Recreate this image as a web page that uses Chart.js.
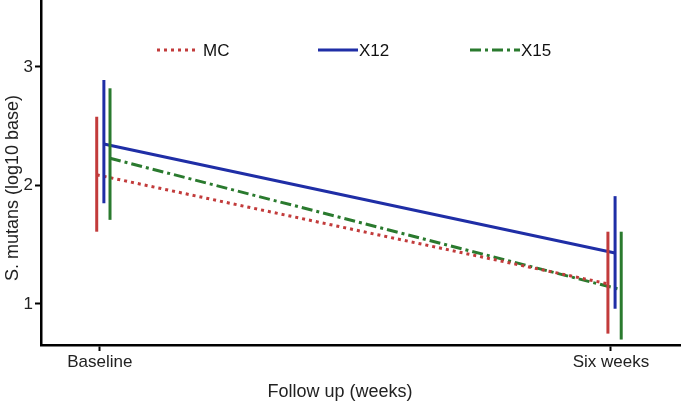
<!DOCTYPE html>
<html>
<head>
<meta charset="utf-8">
<script src="https://cdn.jsdelivr.net/npm/chart.js@4/dist/chart.umd.min.js"></script>
<style>
  html, body { margin: 0; padding: 0; background: #fff; }
  #wrap { width: 685px; height: 415px; }
</style>
</head>
<body>
<div id="wrap"><canvas id="chart" width="685" height="415"></canvas></div>
<script>
// time points
const timeLabels = ["Baseline", "Six weeks"];
const seriesNames = ["MC", "X12", "X15"];
const xTitle = "Follow up (weeks)";
const yTitle = "S. mutans (log10 base)";

// means and error bar ends
const mcMean = [2.09, 1.17];
const mcLow = [1.61, 0.75];
const mcHigh = [2.58, 1.61];

const x12Mean = [2.35, 1.43];
const x12Low = [1.85, 0.96];
const x12High = [2.89, 1.91];

const x15Mean = [2.23, 1.12];
const x15Low = [1.71, 0.70];
const x15High = [2.82, 1.61];

const colors = ["#c23b3b", "#1f2ea6", "#2a7a2e"];
const dashes = [[3, 4], [], [11, 4, 3, 4]];
const dodge = [-0.006, 0.008, 0.02];
const FONT = "'Liberation Sans', Arial, sans-serif";

const means = [mcMean, x12Mean, x15Mean];
const lows = [mcLow, x12Low, x15Low];
const highs = [mcHigh, x12High, x15High];

const datasets = [];
// error bars first so mean lines sit on top
for (let s = 0; s < 3; s++) {
  for (let t = 0; t < timeLabels.length; t++) {
    datasets.push({
      label: seriesNames[s] + " err " + t,
      data: [{ x: t + dodge[s], y: lows[s][t] }, { x: t + dodge[s], y: highs[s][t] }],
      borderColor: colors[s],
      borderWidth: 3,
      pointRadius: 0,
      fill: false
    });
  }
}
for (let s = 0; s < 3; s++) {
  datasets.push({
    label: seriesNames[s],
    data: means[s].map((v, t) => ({ x: t + dodge[s], y: v })),
    borderColor: colors[s],
    borderWidth: 3,
    borderDash: dashes[s],
    pointRadius: 0,
    fill: false
  });
}

// legend inside the plot area + axis titles
const extras = {
  id: "extras",
  afterDraw(chart) {
    const ctx = chart.ctx;
    const area = chart.chartArea;
    const items = [
      { x: 157, w: 38, gap: 8 },
      { x: 318, w: 40, gap: 1 },
      { x: 470, w: 50, gap: 1 }
    ];
    const y = 50;
    ctx.save();
    ctx.font = "17px " + FONT;
    ctx.textBaseline = "middle";
    items.forEach((it, i) => {
      ctx.strokeStyle = colors[i];
      ctx.lineWidth = 3;
      ctx.setLineDash(dashes[i]);
      ctx.beginPath();
      ctx.moveTo(it.x, y);
      ctx.lineTo(it.x + it.w, y);
      ctx.stroke();
      ctx.setLineDash([]);
      ctx.fillStyle = "#111";
      ctx.fillText(seriesNames[i], it.x + it.w + it.gap, y + 1);
    });

    ctx.font = "18px " + FONT;
    ctx.fillStyle = "#222";
    ctx.textAlign = "center";
    ctx.fillText(xTitle, area.left + (area.right - area.left) * 0.468, 392);

    ctx.translate(13, area.top + (area.bottom - area.top) * 0.545);
    ctx.rotate(-Math.PI / 2);
    ctx.fillText(yTitle, 0, 0);
    ctx.restore();
  }
};

new Chart(document.getElementById("chart"), {
  type: "line",
  data: { datasets },
  options: {
    responsive: false,
    animation: false,
    layout: { padding: { left: 0, right: 5, top: 0, bottom: 0 } },
    plugins: {
      legend: { display: false },
      tooltip: { enabled: false }
    },
    scales: {
      x: {
        type: "linear",
        min: -0.115,
        max: 1.135,
        afterBuildTicks: (s) => { s.ticks = timeLabels.map((_, i) => ({ value: i })); },
        afterFit: (s) => { s.height = 70; s.paddingLeft = 0; s.paddingRight = 0; },
        ticks: {
          color: "#222",
          font: { size: 17, family: FONT },
          padding: 1,
          callback: (v) => timeLabels[v]
        },
        grid: { drawOnChartArea: false, drawTicks: true, tickLength: 6, tickWidth: 2, tickColor: "#000" },
        border: { display: true, color: "#000", width: 2.5 }
      },
      y: {
        min: 0.654,
        max: 3.565,
        afterBuildTicks: (s) => { s.ticks = [1, 2, 3].map((v) => ({ value: v })); },
        afterFit: (s) => { s.width = 41; s.paddingTop = 0; s.paddingBottom = 0; },
        ticks: {
          color: "#222",
          font: { size: 17, family: FONT },
          padding: 2
        },
        grid: { drawOnChartArea: false, drawTicks: true, tickLength: 6, tickWidth: 2, tickColor: "#000" },
        border: { display: true, color: "#000", width: 2.5 }
      }
    }
  },
  plugins: [extras]
});
</script>
</body>
</html>
